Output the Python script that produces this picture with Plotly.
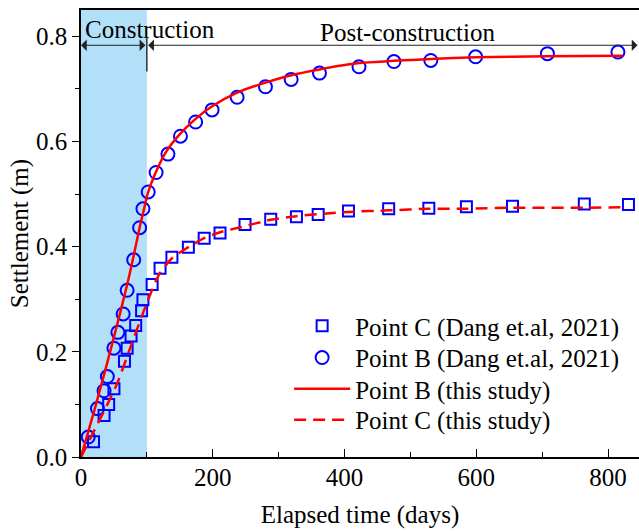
import plotly.graph_objects as go

# ---- data ----
days_C_obs = [19, 35, 42, 50, 66, 70, 76, 83, 92, 94, 108, 120, 138, 163, 187, 211, 249, 288, 327, 360, 406, 467, 528, 585, 655, 764, 831]
sett_C_obs = [0.029, 0.079, 0.100, 0.130, 0.182, 0.207, 0.230, 0.250, 0.278, 0.299, 0.328, 0.359, 0.380, 0.399, 0.416, 0.426, 0.442, 0.452, 0.457, 0.461, 0.468, 0.472, 0.473, 0.476, 0.477, 0.481, 0.480]

days_B_obs = [11, 25, 35, 40, 50, 56, 64, 70, 80, 89, 94, 102, 114, 132, 151, 174, 199, 237, 280, 319, 362, 422, 475, 531, 599, 708, 815]
sett_B_obs = [0.038, 0.092, 0.126, 0.153, 0.207, 0.237, 0.272, 0.317, 0.375, 0.436, 0.472, 0.504, 0.541, 0.576, 0.610, 0.637, 0.660, 0.684, 0.704, 0.718, 0.730, 0.742, 0.752, 0.754, 0.761, 0.767, 0.770]

days_B_sim = [0, 21, 40, 60, 72, 80, 90, 95, 101, 113, 128, 148, 173, 199, 237, 280, 319, 362, 422, 531, 599, 708, 822]
sett_B_sim = [0, 0.092, 0.180, 0.277, 0.338, 0.383, 0.442, 0.468, 0.500, 0.540, 0.578, 0.611, 0.642, 0.667, 0.693, 0.712, 0.726, 0.737, 0.749, 0.757, 0.760, 0.762, 0.763]

days_C_sim = [0, 20, 40, 55, 80, 100, 113, 120, 138, 163, 187, 210, 242, 288, 327, 406, 467, 528, 585, 655, 764, 822]
sett_C_sim = [0, 0.050, 0.100, 0.140, 0.226, 0.293, 0.333, 0.350, 0.378, 0.399, 0.416, 0.427, 0.437, 0.451, 0.458, 0.466, 0.469, 0.472, 0.472, 0.474, 0.474, 0.475]

construction_end = 100
x_max = 847
y_max = 0.85

FONT = "Liberation Serif, Times New Roman, serif"
FS = 25

fig = go.Figure()

fig.add_trace(go.Scatter(
    x=days_C_obs, y=sett_C_obs, mode="markers",
    name="Point C (Dang et.al, 2021)", legend="legend",
    marker=dict(symbol="square-open", size=11, color="#0000FF", line=dict(width=2, color="#0000FF")),
))
fig.add_trace(go.Scatter(
    x=days_B_obs, y=sett_B_obs, mode="markers",
    name="Point B (Dang et.al, 2021)", legend="legend2",
    marker=dict(symbol="circle-open", size=13, color="#0000FF", line=dict(width=2, color="#0000FF")),
))
fig.add_trace(go.Scatter(
    x=days_B_sim, y=sett_B_sim, mode="lines",
    name="Point B (this study)", legend="legend3",
    line=dict(color="#FF0000", width=2.5, shape="spline", smoothing=0.6),
))
fig.add_trace(go.Scatter(
    x=days_C_sim, y=sett_C_sim, mode="lines",
    name="Point C (this study)", legend="legend4",
    line=dict(color="#FF0000", width=2.5, dash="12px,7px", shape="spline", smoothing=0.6),
))

# construction shading
fig.add_shape(type="rect", xref="x", yref="y", x0=0, x1=construction_end, y0=0, y1=y_max,
              fillcolor="#B3E0F9", line=dict(width=0), layer="below")
# vertical divider
fig.add_shape(type="line", xref="x", yref="y", x0=construction_end, x1=construction_end,
              y0=0.733, y1=0.797, line=dict(color="black", width=1.2))

arrow_y = 0.783
for (a, b) in [(0, construction_end), (construction_end + 2, x_max)]:
    fig.add_annotation(x=a, y=arrow_y, ax=b, ay=arrow_y, xref="x", yref="y", axref="x", ayref="y",
                       text="", showarrow=True, arrowhead=1, arrowside="end+start",
                       arrowsize=1.6, arrowwidth=1.2, arrowcolor="#222222")

fig.add_annotation(x=105, y=0.813, xref="x", yref="y", text="Construction", showarrow=False,
                   font=dict(family=FONT, size=FS, color="black"))
fig.add_annotation(x=496, y=0.807, xref="x", yref="y", text="Post-construction", showarrow=False,
                   font=dict(family=FONT, size=FS, color="black"))

leg_common = dict(x=0.373, xanchor="left", yanchor="middle", bgcolor="rgba(0,0,0,0)",
                  font=dict(family=FONT, size=FS, color="black"), itemwidth=56,
                  borderwidth=0)
leg_rows = [0.293, 0.222, 0.152, 0.083]

fig.update_layout(
    width=639, height=532,
    margin=dict(l=81, r=0, t=10, b=75),
    plot_bgcolor="white", paper_bgcolor="white",
    font=dict(family=FONT, size=FS, color="black"),
    showlegend=True,
    legend=dict(y=leg_rows[0], **leg_common),
    legend2=dict(y=leg_rows[1], **leg_common),
    legend3=dict(y=leg_rows[2], **leg_common),
    legend4=dict(y=leg_rows[3], **leg_common),
    xaxis=dict(
        range=[0, x_max], tickvals=[0, 200, 400, 600, 800], ticks="inside", ticklen=8, tickwidth=1.2,
        tickcolor="black", showline=True, linecolor="black", linewidth=1.5, mirror=True,
        showgrid=False, zeroline=False,
        minor=dict(tickvals=[100, 300, 500, 700], ticks="inside", ticklen=5, tickwidth=1.2, tickcolor="black"),
        title=dict(text="Elapsed time (days)", font=dict(family=FONT, size=FS), standoff=16),
        tickfont=dict(family=FONT, size=FS),
        ticklabelstandoff=-3,
    ),
    yaxis=dict(
        range=[0, y_max], tickvals=[0, 0.2, 0.4, 0.6, 0.8], tickformat=".1f", ticks="outside",
        ticklen=7, tickwidth=1.2, tickcolor="black", showline=True, linecolor="black", linewidth=1.5,
        mirror=False, showgrid=False, zeroline=False,
        minor=dict(tickvals=[0.1, 0.3, 0.5, 0.7], ticks="outside", ticklen=4, tickwidth=1.2, tickcolor="black"),
        title=dict(text="Settlement (m)", font=dict(family=FONT, size=FS), standoff=0),
        tickfont=dict(family=FONT, size=FS),
    ),
)

fig.write_html("out.html")
